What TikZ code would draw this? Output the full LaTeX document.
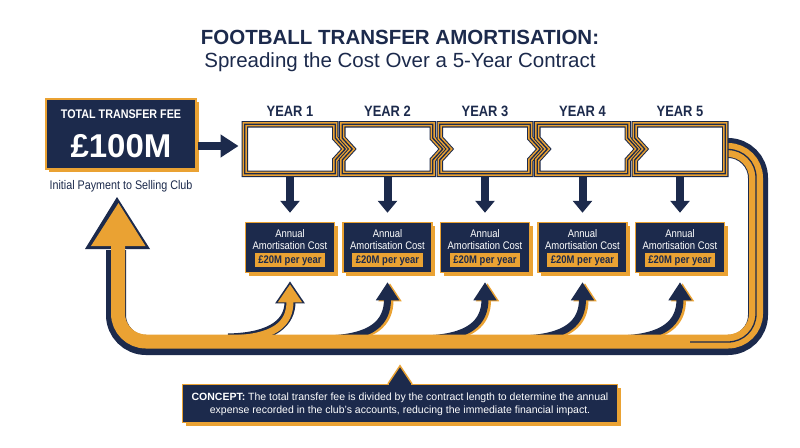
\documentclass[tikz,border=0pt]{standalone}
\usepackage{fontspec}
\setmainfont{Liberation Sans}
\newfontfamily\nar{Liberation Sans}[FakeStretch=0.86]
\usetikzlibrary{arrows.meta,shadows,calc}
\definecolor{navy}{HTML}{1C2A4C}
\definecolor{gold}{HTML}{EAA233}
\begin{document}
\begin{tikzpicture}[x=1pt,y=-1pt,
  lbl/.style={anchor=base, inner sep=0pt},
  darkbox/.style={fill=navy, draw=gold, line width=1.5pt,
    drop shadow={fill=gold, opacity=1, shadow xshift=3pt, shadow yshift=-3pt}},
  yearframe/.style={fill=white, draw=navy, line width=6.5pt,
    postaction={draw=gold, line width=4.4pt},
    postaction={draw=navy, line width=1.3pt}},
  downarr/.style={draw=navy, line width=8pt, -{Triangle[width=19pt,length=12pt]}},
  navyarr/.style={draw=navy, line width=7pt, -{Triangle[width=22pt,length=18pt]}},
  goldarr/.style={draw=gold, line width=7pt, -{Triangle[width=22pt,length=18pt]}},
]
\useasboundingbox (0,0) rectangle (800,447);
\fill[white] (0,0) rectangle (800,447);

% titles
\node[lbl, font=\bfseries\fontsize{20.5}{24}\selectfont, text=navy] (title) at (400,44) {FOOTBALL TRANSFER AMORTISATION:};
\node[lbl, font=\fontsize{20.5}{24}\selectfont, text=navy] (subtitle) at (400,67) {Spreading the Cost Over a 5-Year Contract};

% total fee box
\node[darkbox, minimum width=150pt, minimum height=70pt] (fee) at (121,134) {};
\node[lbl, font=\nar\bfseries\fontsize{12.5}{14}\selectfont, text=white] (feetitle) at (121,118.5) {TOTAL TRANSFER FEE};
\node[lbl, font=\bfseries\fontsize{33}{36}\selectfont, text=white] (feeval) at (121,157) {£100M};
\node[lbl, font=\nar\fontsize{12.5}{14}\selectfont, text=navy] (feenote) at (121,189) {Initial Payment to Selling Club};

% loop band: navy layer
\draw[navy, line width=20pt, rounded corners=30pt] (718,148) -- (758,148) -- (758,345) -- (116,345) -- (116,250);
\fill[navy] (117,197) -- (150,249) -- (85,249) -- cycle;

% year box placeholders and cost boxes
\foreach \i/\cx in {1/290,2/387.5,3/485,4/582.5,5/680}{
  \node[minimum width=97pt, minimum height=56pt, inner sep=0pt, outer sep=0pt] (yb\i) at (\cx,149) {};
  \node[darkbox, minimum width=89pt, minimum height=50pt] (cb\i) at (\cx,247.5) {};
  \coordinate (bs\i) at (\cx-62,339);
}

% branch arrows
\draw[navy, line width=11pt, -{Triangle[width=28pt,length=22pt]}] (bs1) .. controls +(47,-1) and +(0,40) .. ([yshift=-8pt]cb1.south);
\draw[gold, line width=7pt, -{Triangle[width=23pt,length=18pt]}] (bs1) .. controls +(47,-1) and +(0,40) .. ([yshift=-11pt]cb1.south);
\foreach \i in {2,3,4,5}{
  \draw[goldarr] ([xshift=2.5pt,yshift=-1pt]bs\i) .. controls +(47,-1) and +(0,40) .. ([xshift=2.5pt,yshift=-10pt]cb\i.south);
  \draw[navyarr] (bs\i) .. controls +(47,-1) and +(0,40) .. ([yshift=-9pt]cb\i.south);
}

% loop band: gold layer
\draw[gold, line width=14pt, rounded corners=28pt] (718,150) -- (756,150) -- (756,341.5) -- (118,341.5) -- (118,240);
\fill[gold] (118.5,203) -- (145.5,246) -- (91,246) -- cycle;
\draw[navy, line width=1.3pt, rounded corners=28pt] (718,149.5) -- (756,149.5) -- (756,342) -- (690,342);

% year frames
\draw[yearframe] (244.75,124.25) -- (335.25,124.25) -- (335.25,138) -- (345.25,149) -- (335.25,160) -- (335.25,173.75) -- (244.75,173.75) -- cycle;
\draw[yearframe] (342.25,124.25) -- (432.75,124.25) -- (432.75,138) -- (442.75,149) -- (432.75,160) -- (432.75,173.75) -- (342.25,173.75) -- (342.25,160) -- (352.25,149) -- (342.25,138) -- cycle;
\draw[yearframe] (439.75,124.25) -- (530.25,124.25) -- (530.25,138) -- (540.25,149) -- (530.25,160) -- (530.25,173.75) -- (439.75,173.75) -- (439.75,160) -- (449.75,149) -- (439.75,138) -- cycle;
\draw[yearframe] (537.25,124.25) -- (627.75,124.25) -- (627.75,138) -- (637.75,149) -- (627.75,160) -- (627.75,173.75) -- (537.25,173.75) -- (537.25,160) -- (547.25,149) -- (537.25,138) -- cycle;
\draw[yearframe] (634.75,124.25) -- (725.25,124.25) -- (725.25,173.75) -- (634.75,173.75) -- (634.75,160) -- (644.75,149) -- (634.75,138) -- cycle;

% fee to year 1 arrow
\draw[draw=navy, line width=8pt, -{Triangle[width=22pt,length=18pt]}] ([xshift=1pt,yshift=-12pt]fee.east) -- ([xshift=-3pt,yshift=3pt]yb1.west);

% labels, cost texts, down arrows
\foreach \i/\cx in {1/290,2/387.5,3/485,4/582.5,5/680}{
  \node[lbl, font=\nar\bfseries\fontsize{15}{18}\selectfont, text=navy] (yl\i) at (\cx,116) {YEAR \i};
  \draw[downarr] (yb\i.south) -- ([yshift=9pt]cb\i.north);
  \node[lbl, font=\nar\fontsize{11}{13}\selectfont, text=white] (ca\i) at (\cx,237.5) {Annual};
  \node[lbl, font=\nar\fontsize{11}{13}\selectfont, text=white] (cc\i) at (\cx,249.5) {Amortisation Cost};
  \node[anchor=base, fill=gold, text=navy, inner xsep=3.5pt, inner ysep=2pt, font=\nar\bfseries\fontsize{11}{13}\selectfont] (cv\i) at (\cx,263) {£20M per year};
}

% concept callout
\node[darkbox, minimum width=435pt, minimum height=38pt] (concept) at (400,403.5) {};
\draw[fill=navy, draw=gold, line width=1.5pt, line join=miter] ([xshift=-12pt]concept.north) -- ++(12,-18) -- ++(12,18);
\fill[navy] ([xshift=-11pt,yshift=-1.6pt]concept.north) rectangle ([xshift=11pt,yshift=1.2pt]concept.north);
\node[lbl, font=\fontsize{10.5}{12}\selectfont, text=white] (ct1) at (400,400.5) {\textbf{CONCEPT:} The total transfer fee is divided by the contract length to determine the annual};
\node[lbl, font=\fontsize{10.5}{12}\selectfont, text=white] (ct2) at (400,413) {expense recorded in the club’s accounts, reducing the immediate financial impact.};
\end{tikzpicture}
\end{document}
